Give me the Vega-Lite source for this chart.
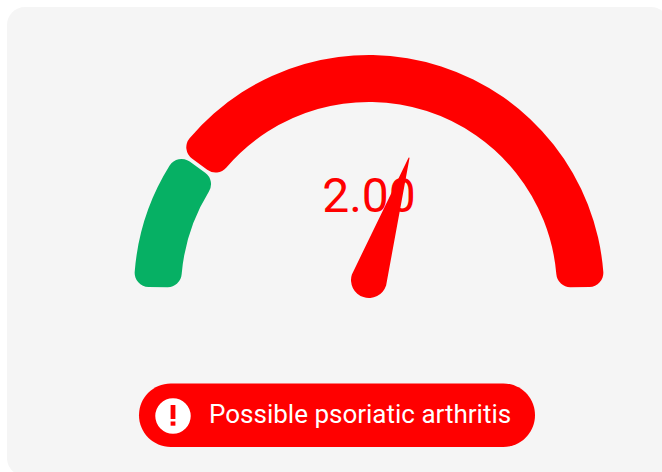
{
"$schema":"https://vega.github.io/schema/vega-lite/v6.json",
"width":662,"height":472,"padding":0,"autosize":{"type":"none"},
"background":"white",
"view":{"stroke":null},
"config":{"font":"Roboto"},
"encoding":{
 "x":{"field":"x","type":"quantitative","axis":null,"scale":{"domain":[-369,293],"nice":false,"zero":false}},
 "y":{"field":"y","type":"quantitative","axis":null,"scale":{"domain":[-182,290],"nice":false,"zero":false}}
},
"layer":[
 {"data":{"values":[{"x":-362,"x2":300,"y":283,"y2":-186}]},
  "mark":{"type":"rect","color":"#f5f5f5","cornerRadius":18,"clip":true},
  "encoding":{"x2":{"field":"x2"},"y2":{"field":"y2"}}},
 {"data":{"values":[
   {"x":0,"y":0,"segment":"green","start":-89.2,"end":-54.4,"outer":235,"inner":188},
   {"x":0,"y":0,"segment":"red","start":-53.4,"end":89.2,"outer":235,"inner":188}]},
  "mark":{"type":"arc","cornerRadius":14},
  "encoding":{
   "theta":{"field":"start","type":"quantitative","scale":{"domain":[-180,180],"range":[-3.14159265,3.14159265]}},
   "theta2":{"field":"end"},
   "radius":{"field":"outer","type":"quantitative","scale":{"type":"linear","domain":[0,235],"range":[0,235]}},
   "radius2":{"field":"inner"},
   "color":{"field":"segment","type":"nominal","legend":null,"scale":{"domain":["green","red"],"range":["#06b064","#ff0000"]}}
  }},
 {"data":{"values":[{"x":0,"y":92,"label":"2.00"}]},
  "mark":{"type":"text","fontSize":48,"color":"#ff0000","align":"center","baseline":"middle","font":"Roboto"},
  "encoding":{"text":{"field":"label"}}},
 {"data":{"values":[{"x":0,"y":10,"w":36},{"x":40,"y":132,"w":0}]},
  "mark":{"type":"trail","color":"#ff0000"},
  "encoding":{"size":{"field":"w","type":"quantitative","legend":null,"scale":{"type":"linear","domain":[0,36],"range":[0,36]}},"order":{"field":"w","sort":"descending"}}},
 {"data":{"values":[{"x":-230,"x2":166,"y":-93.5,"y2":-157}]},
  "mark":{"type":"rect","color":"#ff0000","cornerRadius":31.7},
  "encoding":{"x2":{"field":"x2"},"y2":{"field":"y2"}}},
 {"data":{"values":[{"x":-196,"y":-126}]},
  "mark":{"type":"point","filled":true,"opacity":1,"color":"white","shape":"circle","size":1257}},
 {"data":{"values":[{"x":-198.4,"x2":-193.6,"y":-115,"y2":-129},{"x":-198.4,"x2":-193.6,"y":-131.5,"y2":-135.7}]},
  "mark":{"type":"rect","color":"#ff0000"},
  "encoding":{"x2":{"field":"x2"},"y2":{"field":"y2"}}},
 {"data":{"values":[{"x":-160,"y":-124.5,"label":"Possible psoriatic arthritis"}]},
  "mark":{"type":"text","fontSize":26,"color":"white","align":"left","baseline":"middle","font":"Roboto"},
  "encoding":{"text":{"field":"label"}}}
]
}
